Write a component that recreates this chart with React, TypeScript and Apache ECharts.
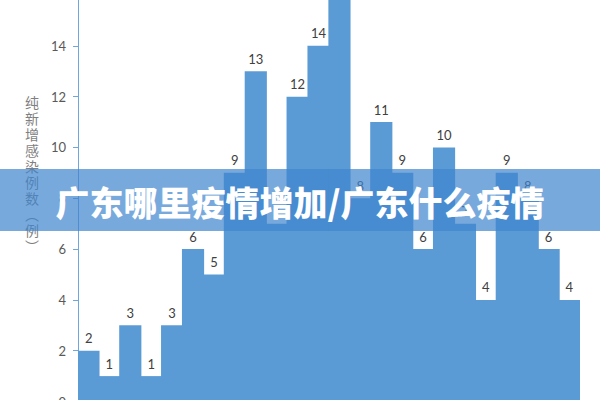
import { useEffect, useRef } from 'react';
import * as echarts from 'echarts';

// daily new infections (bars left to right); the 13th bar runs off the top of the picture
const days = ['1', '2', '3', '4', '5', '6', '7', '8', '9', '10', '11', '12',
  '13', '14', '15', '16', '17', '18', '19', '20', '21', '22', '23', '24'];
const newCases = [2, 1, 3, 1, 3, 6, 5, 9, 13, 7, 12, 14, 16, 8, 11, 9, 6, 10, 7, 4, 9, 8, 6, 4];

const yMax = 16;
const yStep = 2;
const axisName = ['纯', '新', '增', '感', '染', '例', '数', '︵', '例', '︶'];
const bannerText = '广东哪里疫情增加/广东什么疫情';

export default function App() {
  const chartRef = useRef<HTMLDivElement>(null);

  useEffect(() => {
    if (!chartRef.current) return;
    const chart = echarts.init(chartRef.current, null, { renderer: 'svg' });

    const option: echarts.EChartsOption = {
      animation: false,
      backgroundColor: '#ffffff',
      textStyle: { fontFamily: 'Lato, "Noto Sans CJK SC", sans-serif' },
      grid: { left: 78, right: 20, top: -5, bottom: -1.5, outerBoundsMode: 'none' } as any,
      xAxis: {
        type: 'category',
        data: days,
        show: false,
      },
      yAxis: {
        type: 'value',
        min: 0,
        max: yMax,
        interval: yStep,
        axisLine: { show: true, lineStyle: { color: '#6fa6dc', width: 1 } },
        axisTick: { show: true, length: 5, lineStyle: { color: '#6fa6dc' } },
        axisLabel: { color: '#595959', fontSize: 13, margin: 12, showMaxLabel: false },
        splitLine: { show: false },
      },
      series: [
        {
          type: 'bar',
          // bars that reach the top edge carry no visible label in the picture
          data: newCases.map((v) => ({ value: v, label: { show: v < yMax } })),
          barWidth: '106%',
          itemStyle: { color: '#5b9bd5' },
          label: {
            show: true,
            position: 'top',
            distance: 6,
            color: '#404040',
            fontSize: 13,
          },
        },
      ],
      graphic: [
        {
          type: 'text',
          left: 25,
          top: 94,
          style: {
            text: axisName.join('\n'),
            fill: '#7f7f7f',
            fontSize: 14,
            lineHeight: 16,
            fontFamily: '"Noto Sans CJK SC", sans-serif',
          },
        },
        {
          type: 'rect',
          z: 100,
          shape: { x: 0, y: 169, width: 600, height: 62 },
          style: { fill: 'rgba(62,133,205,0.7)' },
        },
        {
          type: 'text',
          z: 101,
          x: 300,
          y: 201,
          style: {
            text: bannerText,
            fill: '#ffffff',
            fontSize: 34,
            fontWeight: 900,
            fontFamily: '"Noto Sans CJK SC", sans-serif',
            align: 'center',
            verticalAlign: 'middle',
          },
        },
      ],
    };

    chart.setOption(option);

    return () => {
      chart.dispose();
    };
  }, []);

  return (
    <div
      ref={chartRef}
      style={{ position: 'fixed', left: 0, top: 0, width: '600px', height: '400px' }}
    />
  );
}
